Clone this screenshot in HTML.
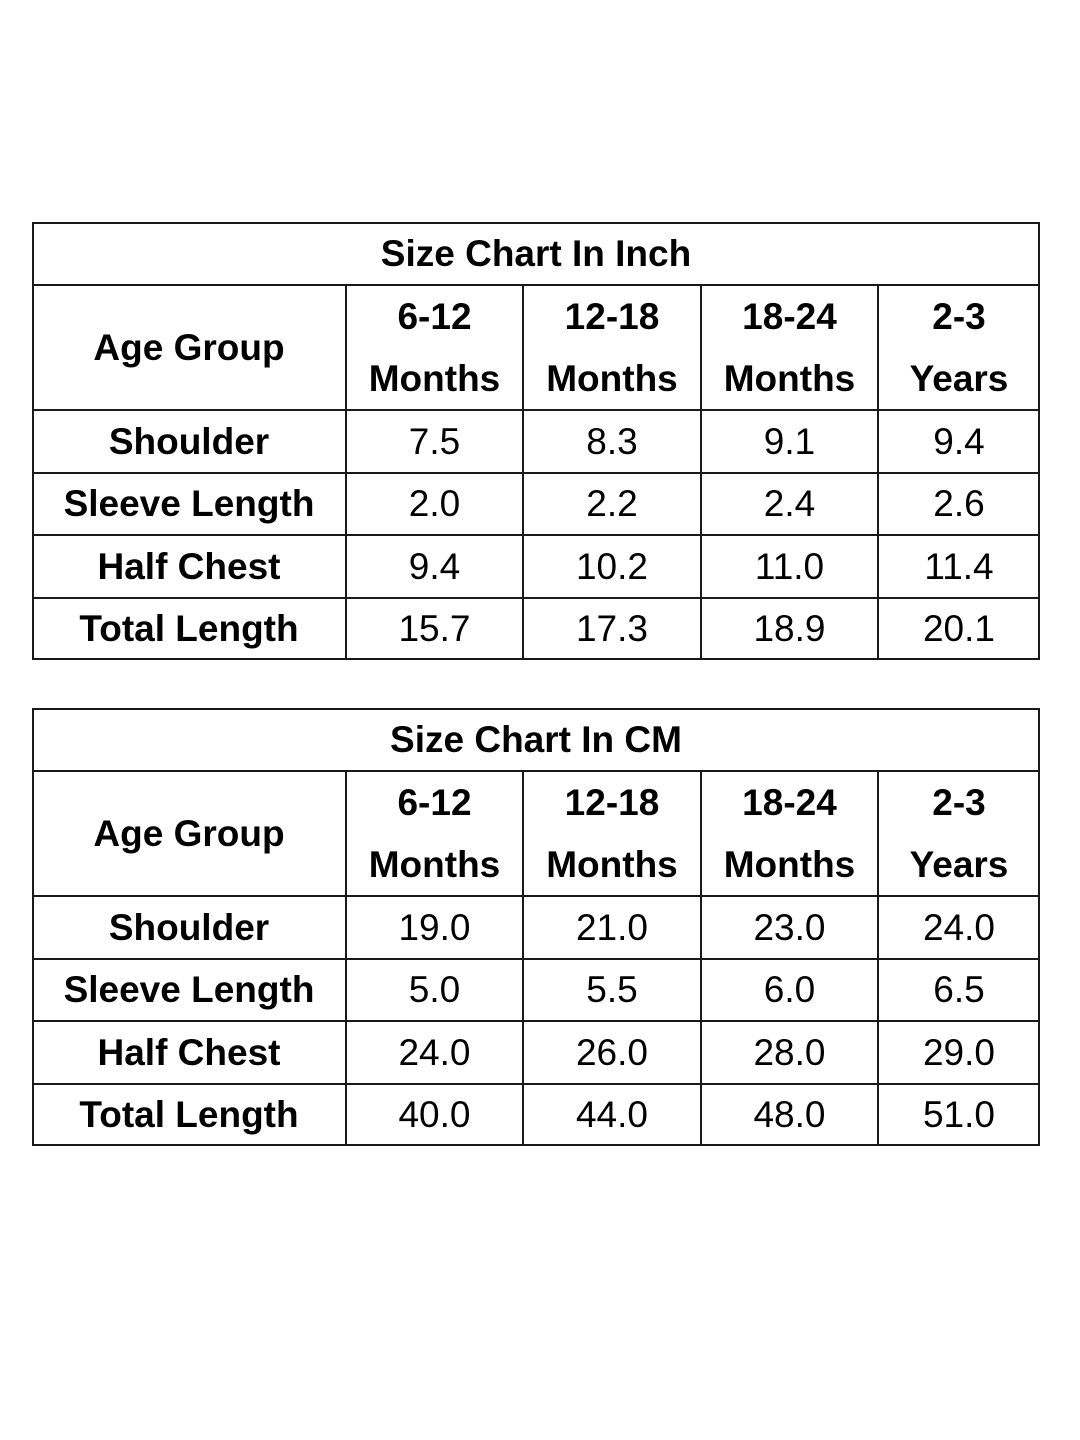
<!DOCTYPE html>
<html><head><meta charset="utf-8"><style>
html,body{margin:0;padding:0;background:#fff;}
body{width:1080px;height:1440px;position:relative;overflow:hidden;font-family:"Liberation Sans",sans-serif;color:#000;}
.c{position:absolute;box-sizing:border-box;display:flex;align-items:center;justify-content:center;text-align:center;line-height:62px;}
.b{font-weight:bold;}
.box{position:absolute;border:2px solid #1a1a1a;box-sizing:border-box;}
.h{position:absolute;height:2px;background:#1a1a1a;}
.v{position:absolute;width:2px;background:#1a1a1a;}
</style></head><body>
<script>
const colHeaders1=["6-12","12-18","18-24","2-3"];
const colHeaders2=["Months","Months","Months","Years"];
const rowLabels=["Shoulder","Sleeve Length","Half Chest","Total Length"];
const inchValues=[["7.5","8.3","9.1","9.4"],["2.0","2.2","2.4","2.6"],["9.4","10.2","11.0","11.4"],["15.7","17.3","18.9","20.1"]];
const cmValues=[["19.0","21.0","23.0","24.0"],["5.0","5.5","6.0","6.5"],["24.0","26.0","28.0","29.0"],["40.0","44.0","48.0","51.0"]];
const titles=["Size Chart In Inch","Size Chart In CM"];

const colX=[32,346,523,701,878,1040];
function mk(cls,x,y,w,h,name,txt,fs){
  const d=document.createElement('div');
  d.className=cls;
  d.style.left=x+'px';d.style.top=y+'px';d.style.width=w+'px';d.style.height=h+'px';
  if(fs)d.style.fontSize=fs+'px';
  if(txt!==undefined)d.innerHTML=txt;
  
  
  document.body.appendChild(d);return d;
}
function table(top,title,vals,key){
  const rows=[top,top+63,top+188,top+251,top+313,top+376,top+438];
  const box=mk('box',32,top,1008,438,key+'-table');
  // title
  mk('c b',32,rows[0],1008,63,key+'-title',title,37);
  // horizontal lines
  for(let i=1;i<rows.length-1;i++) mk('h',32,rows[i]-1,1008,2,key+'-row-line');
  // vertical lines
  for(let j=1;j<colX.length-1;j++) mk('v',colX[j]-1,rows[1],2,438-63,key+'-col-line');
  mk('c b',colX[0],rows[1],colX[1]-colX[0],125,key+'-age-group-header','Age Group',37);
  for(let j=0;j<4;j++){
    const x=colX[j+1],w=colX[j+2]-colX[j+1];
    mk('c b',x,rows[1],w,125,key+'-col-header',colHeaders1[j]+'<br>'+colHeaders2[j],37);
  }
  for(let r=0;r<4;r++){
    mk('c b',colX[0],rows[r+2],colX[1]-colX[0],rows[r+3]-rows[r+2],key+'-row-label',rowLabels[r],37);
    for(let j=0;j<4;j++){
      mk('c',colX[j+1],rows[r+2],colX[j+2]-colX[j+1],rows[r+3]-rows[r+2],key+'-value-cell',vals[r][j],37);
    }
  }
}
table(222,titles[0],inchValues,'inch');
table(708,titles[1],cmValues,'cm');
</script>
</body></html>
